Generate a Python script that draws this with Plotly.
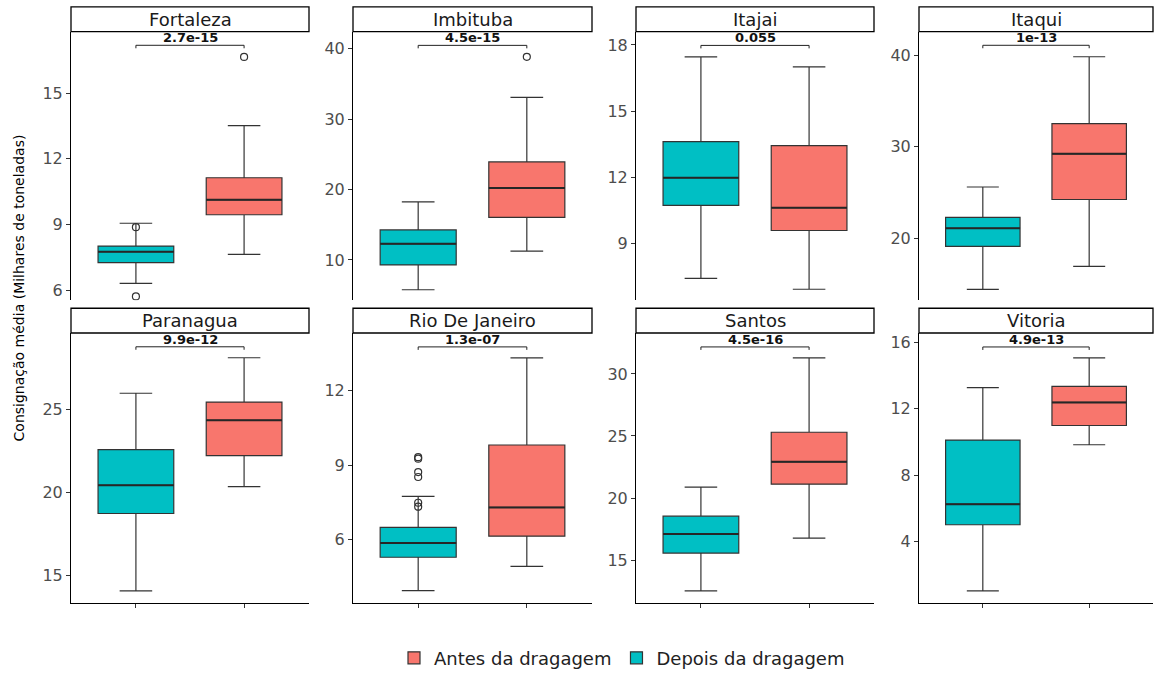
import plotly.graph_objects as go

# ---------------- data ----------------
ports = ["Fortaleza", "Imbituba", "Itajai", "Itaqui",
         "Paranagua", "Rio De Janeiro", "Santos", "Vitoria"]

depois_lo  = [6.30, 5.77, 7.43, 14.45, 14.06, 3.93, 12.52, 1.03]
depois_q1  = [7.25, 9.30, 10.74, 19.14, 18.72, 5.28, 15.56, 5.01]
depois_med = [7.75, 12.30, 11.99, 21.12, 20.42, 5.86, 17.10, 6.25]
depois_q3  = [8.01, 14.27, 13.62, 22.31, 22.57, 6.49, 18.54, 10.11]
depois_hi  = [9.05, 18.25, 17.46, 25.62, 25.97, 7.74, 20.88, 13.27]
depois_out = [[8.87, 5.71], [], [], [], [], [9.32, 9.26, 8.72, 8.52, 7.48, 7.32], [], []]

antes_lo  = [7.63, 11.27, 6.94, 16.97, 20.34, 4.91, 16.76, 9.83]
antes_q1  = [9.44, 16.06, 9.60, 24.26, 22.21, 6.13, 21.12, 10.99]
antes_med = [10.12, 20.24, 10.63, 29.24, 24.34, 7.29, 22.92, 12.38]
antes_q3  = [11.13, 23.94, 13.44, 32.53, 25.44, 9.81, 25.30, 13.35]
antes_hi  = [13.51, 33.10, 17.01, 39.83, 28.11, 13.33, 31.30, 15.06]
antes_out = [[16.65], [38.87], [], [], [], [], [], []]

p_values  = ["2.7e-15", "4.5e-15", "0.055", "1e-13", "9.9e-12", "1.3e-07", "4.5e-16", "4.9e-13"]
bracket_y = [17.18, 40.50, 17.98, 41.08, 28.77, 13.77, 32.18, 15.72]

y_ranges = [[5.53, 17.8], [4.27, 42.44], [6.44, 18.6], [13.26, 42.56],
            [13.35, 29.6], [3.45, 14.33], [11.57, 33.3], [0.32, 16.56]]
y_dticks = [3, 10, 3, 10, 5, 3, 5, 4]

group_names = ["Antes da dragagem", "Depois da dragagem"]

# ---------------- layout geometry / styles ----------------
W, H = 1155, 677
col_px = [(71, 309), (353, 592), (636, 874), (919, 1153)]
row_px = [(32, 303), (336, 608)]
strip_px = [(7, 32), (311, 336)]


def px(x):
    return x / W


def py(y):
    return 1 - y / H


TEAL = "#00BFC4"
RED = "#F8766D"
LINE = "#333333"
FONT = "DejaVu Sans"
BOXW = 0.7

fig = go.Figure()
layout = {}
shapes = []
annotations = []

for i, name in enumerate(ports):
    r, c = divmod(i, 4)
    suf = "" if i == 0 else str(i + 1)
    xa, ya = "x" + suf, "y" + suf
    x0, x1 = col_px[c]
    yt, yb = row_px[r]

    groups = [
        (1, depois_lo, depois_q1, depois_med, depois_q3, depois_hi, depois_out,
         TEAL, group_names[1], "depois", 2),
        (2, antes_lo, antes_q1, antes_med, antes_q3, antes_hi, antes_out,
         RED, group_names[0], "antes", 1),
    ]
    for (xpos, lo, q1, med, q3, hi, outs, col, gname, lg, rank) in groups:
        fig.add_trace(go.Box(
            x=[xpos], q1=[q1[i]], median=[med[i]], q3=[q3[i]],
            lowerfence=[lo[i]], upperfence=[hi[i]],
            width=BOXW, whiskerwidth=0.43, boxpoints=False,
            fillcolor=col, line=dict(color=LINE, width=1.2),
            name=gname, legendgroup=lg, showlegend=(i == 0),
            legendrank=rank, xaxis=xa, yaxis=ya, hoverinfo="skip"))
        # thicker median line (ggplot style)
        fig.add_trace(go.Scatter(
            x=[xpos - BOXW / 2, xpos + BOXW / 2], y=[med[i], med[i]],
            mode="lines", line=dict(color="#262626", width=2),
            showlegend=False, xaxis=xa, yaxis=ya, hoverinfo="skip"))
        if outs[i]:
            fig.add_trace(go.Scatter(
                x=[xpos] * len(outs[i]), y=outs[i], mode="markers",
                marker=dict(symbol="circle-open", size=7, color=LINE,
                            line=dict(width=1.2, color=LINE)),
                showlegend=False, xaxis=xa, yaxis=ya, hoverinfo="skip"))

    # significance bracket
    rng = y_ranges[i]
    d = 3 * (rng[1] - rng[0]) / (yb - yt)
    by = bracket_y[i]
    fig.add_trace(go.Scatter(
        x=[1, 1, 2, 2], y=[by - d, by, by, by - d], mode="lines",
        line=dict(color="#222222", width=1), showlegend=False,
        xaxis=xa, yaxis=ya, hoverinfo="skip"))
    annotations.append(dict(
        x=1.5, y=by, xref=xa, yref=ya, text="<b>" + p_values[i] + "</b>",
        showarrow=False, yanchor="bottom", yshift=-2,
        font=dict(family=FONT, size=13, color="#111111")))

    # axes
    bottom_row = (r == 1)
    layout["xaxis" + suf] = dict(
        domain=[px(x0), px(x1)], range=[0.4, 2.6], anchor=ya,
        showgrid=False, zeroline=False,
        showline=bottom_row, linecolor="black", linewidth=1,
        tickmode="array", tickvals=[1, 2], ticktext=["", ""],
        ticks="outside" if bottom_row else "", ticklen=4, tickcolor=LINE,
        fixedrange=True)
    layout["yaxis" + suf] = dict(
        domain=[py(yb), py(yt)], range=rng, anchor=xa,
        showgrid=False, zeroline=False,
        showline=True, linecolor="black", linewidth=1,
        tick0=0, dtick=y_dticks[i], ticks="outside", ticklen=4, tickcolor=LINE,
        tickfont=dict(family=FONT, size=16, color="#4D4D4D"),
        fixedrange=True)

    # strip
    st, sb = strip_px[r]
    shapes.append(dict(type="rect", xref="paper", yref="paper",
                       x0=px(x0), x1=px(x1), y0=py(sb), y1=py(st),
                       fillcolor="white", line=dict(color="black", width=1.3)))
    annotations.append(dict(
        x=px((x0 + x1) / 2), y=py((st + sb) / 2), xref="paper", yref="paper",
        text=name, showarrow=False, xanchor="center", yanchor="middle",
        font=dict(family=FONT, size=18, color="#1A1A1A")))

# y-axis title
annotations.append(dict(
    x=px(19), y=py(291), xref="paper", yref="paper",
    text="Consignação média (Milhares de toneladas)", textangle=-90,
    showarrow=False, xanchor="center", yanchor="middle",
    font=dict(family=FONT, size=14, color="black")))

fig.update_layout(
    width=W, height=H, margin=dict(l=0, r=0, t=0, b=0),
    paper_bgcolor="white", plot_bgcolor="white",
    shapes=shapes, annotations=annotations,
    showlegend=True,
    legend=dict(orientation="h", x=px(622), xanchor="center",
                y=py(664), yanchor="middle",
                font=dict(family=FONT, size=18, color="#222222"),
                itemwidth=30, bgcolor="rgba(0,0,0,0)"),
    boxmode="overlay",
    hovermode=False,
    **layout)

# remove the default page margin so the figure fills the window exactly
fig.write_html(
    "out.html",
    config={"displayModeBar": False, "staticPlot": True},
    post_script="document.body.style.margin='0px';"
                "document.body.style.overflow='hidden';")
